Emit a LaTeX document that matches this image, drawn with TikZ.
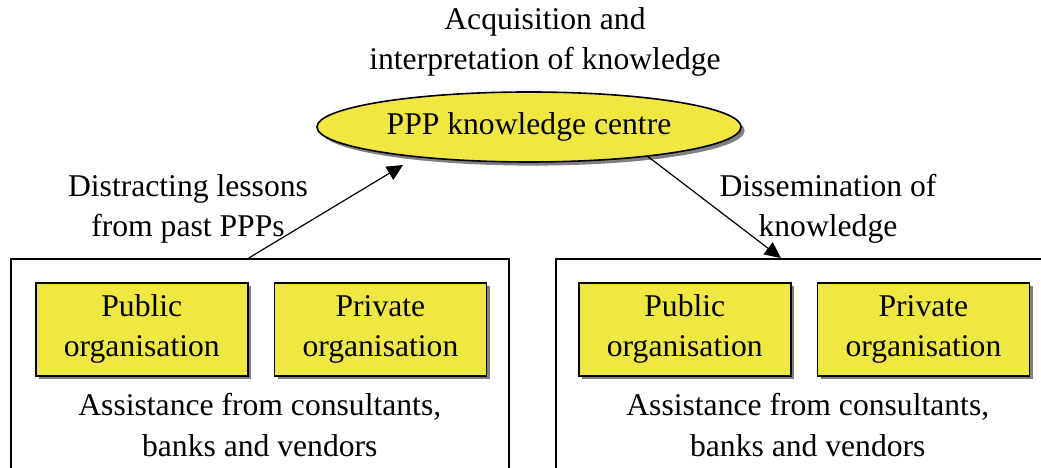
\documentclass[tikz,border=0pt]{standalone}
\usepackage{fontspec}
\setmainfont{Liberation Serif}
\usetikzlibrary{positioning}
\usetikzlibrary{calc}
\usetikzlibrary{shapes.geometric}
\usetikzlibrary{shadows}
\usetikzlibrary{arrows.meta}
\definecolor{boxYellow}{RGB}{238,232,64}

\begin{document}
\begin{tikzpicture}[>={Triangle[length=0.4cm,width=0.38cm]}, font=\fontsize{22.5}{28.5}\selectfont]
		\tikzstyle{frame} = [rectangle, minimum width=12.45cm, minimum height=6cm, draw=black, line width=0.04cm]
		\tikzstyle{shade} = [drop shadow={shadow xshift=0.09cm, shadow yshift=-0.09cm, fill=gray, opacity=1}]
		\tikzstyle{org} = [rectangle, minimum width=5.3cm, minimum height=2.325cm, align=center, draw=black, line width=0.04cm, fill=boxYellow, shade]
		\tikzstyle{txt} = [align=center, inner sep=0pt]

		\useasboundingbox (0,0) rectangle (26.025,11.7);

		\node (topText) [txt] at (13.625,10.65) {Acquisition and \\ interpretation of knowledge};
		\node (centre) [ellipse, minimum width=10.6cm, minimum height=1.75cm, draw=black, line width=0.04cm, fill=boxYellow, shade] at (13.225,8.525) {PPP knowledge centre};

		\node (leftFrame) [frame, anchor=north west] at (0.25,5.25) {};
		\node (rightFrame) [frame, anchor=north west] at (13.875,5.25) {};

		\node (leftPublic) [org, below right=0.6cm and 0.625cm of leftFrame.north west] {Public \\ organisation};
		\node (leftPrivate) [org, right=0.625cm of leftPublic] {Private \\ organisation};
		\node (leftHelp) [txt] at ($(leftFrame.north)+(0,-4.175)$) {Assistance from consultants, \\ banks and vendors};

		\node (rightPublic) [org, below right=0.6cm and 0.575cm of rightFrame.north west] {Public \\ organisation};
		\node (rightPrivate) [org, right=0.625cm of rightPublic] {Private \\ organisation};
		\node (rightHelp) [txt] at ($(rightFrame.north)+(0.075,-4.175)$) {Assistance from consultants, \\ banks and vendors};

		\node (lessons) [txt] at (4.7,6.475) {Distracting lessons \\ from past PPPs};
		\node (dissemination) [txt] at (20.7,6.475) {Dissemination of \\ knowledge};

		\draw [->, line width=0.03cm, shorten >=0.375cm] ([xshift=-0.275cm]leftFrame.north) -- (centre.195);
		\draw [->, line width=0.03cm] (centre.346) -- ([xshift=-0.6cm]rightFrame.north);
	\end{tikzpicture}
\end{document}
